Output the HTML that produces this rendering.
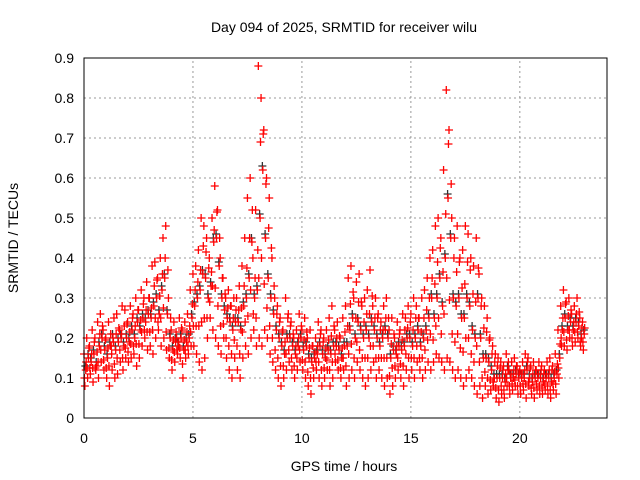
<!DOCTYPE html>
<html><head><meta charset="utf-8"><style>
body{margin:0;background:#fff;}
svg{display:block;font-family:"Liberation Sans",sans-serif;}
</style></head><body>
<svg id="chart" width="640" height="480">
<text x="344" y="32" font-size="14" text-anchor="middle">Day 094 of 2025, SRMTID for receiver wilu</text>
<text x="344" y="471" font-size="14" text-anchor="middle">GPS time / hours</text>
<text x="18" y="238" font-size="14" text-anchor="middle" transform="rotate(-90 18 238)">SRMTID / TECUs</text>
<g id="grid"></g><g id="ticks"></g><g id="marks"></g>
<rect x="84" y="58" width="523" height="360" fill="none" stroke="#000"/>
</svg>
<script>
const xTicks=[0,5,10,15,20];
const yTicks=[0,0.1,0.2,0.3,0.4,0.5,0.6,0.7,0.8,0.9];
const yTickLabels=["0","0.1","0.2","0.3","0.4","0.5","0.6","0.7","0.8","0.9"];
const binHours=0.125;
const upperValues=[.16,.2,.18,.22,.2,.24,.26,.22,.2,.24,.18,.25,.26,.22,.28,.27,.24,.28,.26,.3,.27,.32,.3,.34,.3,.38,.39,.35,.4,.45,.48,.3,.22,.24,.2,.25,.22,.24,.26,.32,.36,.38,.42,.5,.48,.45,.4,.5,.58,.52,.4,.35,.3,.32,.28,.3,.3,.33,.38,.45,.55,.6,.4,.52,.88,.8,.72,.6,.55,.4,.3,.28,.25,.22,.3,.26,.24,.2,.22,.26,.22,.25,.2,.22,.18,.2,.24,.22,.2,.22,.25,.28,.22,.24,.2,.25,.28,.35,.38,.3,.34,.36,.28,.3,.32,.37,.28,.3,.26,.24,.28,.3,.22,.25,.2,.24,.22,.26,.25,.28,.26,.3,.28,.25,.3,.32,.35,.4,.42,.48,.5,.45,.62,.82,.72,.5,.45,.48,.4,.42,.48,.46,.4,.38,.45,.36,.3,.28,.25,.2,.18,.16,.15,.14,.13,.16,.12,.14,.15,.13,.12,.14,.16,.15,.13,.14,.12,.14,.13,.12,.14,.15,.13,.16,.22,.28,.32,.29,.3,.26,.28,.3,.25,.24];
const lowerValues=[.08,.1,.11,.09,.12,.1,.14,.12,.1,.08,.12,.1,.11,.14,.12,.15,.14,.15,.16,.13,.15,.18,.2,.17,.18,.16,.2,.22,.18,.2,.17,.15,.12,.14,.16,.15,.1,.15,.16,.18,.18,.16,.14,.12,.15,.2,.25,.22,.2,.18,.16,.2,.15,.12,.1,.15,.12,.1,.15,.18,.16,.2,.22,.18,.2,.18,.22,.2,.16,.14,.12,.1,.08,.1,.12,.14,.12,.1,.12,.14,.12,.1,.08,.06,.1,.12,.1,.08,.1,.12,.08,.1,.14,.12,.1,.12,.08,.1,.12,.1,.14,.12,.1,.08,.1,.12,.14,.1,.12,.1,.08,.1,.06,.08,.1,.12,.1,.08,.12,.1,.12,.1,.14,.12,.1,.12,.14,.12,.14,.16,.15,.14,.12,.15,.14,.12,.1,.12,.1,.08,.1,.12,.1,.08,.06,.08,.05,.08,.06,.07,.08,.05,.04,.06,.05,.08,.06,.07,.08,.06,.06,.07,.05,.08,.06,.05,.07,.06,.06,.07,.06,.05,.07,.06,.1,.18,.18,.17,.2,.18,.19,.2,.18,.17];
const midValues=[.12,.15,.14,.16,.13,.18,.2,.17,.15,.18,.2,.17,.19,.2,.18,.2,.19,.22,.2,.24,.22,.25,.24,.26,.25,.28,.3,.26,.32,.35,.26,.2,.17,.19,.18,.2,.17,.19,.2,.25,.28,.3,.32,.36,.35,.3,.33,.44,.45,.38,.3,.27,.25,.24,.22,.24,.24,.22,.28,.3,.35,.44,.3,.32,.5,.62,.45,.35,.3,.26,.22,.2,.18,.16,.2,.2,.18,.16,.18,.2,.17,.18,.15,.14,.15,.16,.18,.16,.15,.17,.16,.18,.18,.17,.15,.18,.18,.22,.25,.2,.24,.22,.2,.22,.2,.24,.22,.2,.18,.2,.22,.2,.15,.17,.16,.18,.17,.18,.2,.2,.18,.2,.22,.18,.2,.22,.25,.3,.25,.3,.35,.28,.4,.55,.45,.3,.28,.3,.25,.25,.3,.28,.22,.2,.3,.2,.15,.15,.14,.12,.1,.1,.1,.1,.09,.12,.1,.1,.11,.1,.1,.1,.12,.1,.09,.1,.1,.1,.09,.1,.1,.09,.1,.11,.15,.22,.25,.22,.24,.22,.24,.23,.2,.21];
const X0=84,X1=607,Y0=418,Y1=58;
const xs=h=>X0+(h/24)*(X1-X0);
const ys=v=>Y0-(v/0.9)*(Y0-Y1);
const NS="http://www.w3.org/2000/svg";
const grid=document.getElementById('grid'),ticks=document.getElementById('ticks'),marks=document.getElementById('marks');
function mk(t,a,p){const e=document.createElementNS(NS,t);for(const k in a)e.setAttribute(k,a[k]);p.appendChild(e);return e;}
yTicks.forEach((v,i)=>{
 const y=ys(v);
 if(i>0&&i<yTicks.length-1){const g=mk('line',{x1:X0,x2:X1,y1:y,y2:y,stroke:'#999','stroke-dasharray':'2,3'},grid);
 
 }
 const t=mk('text',{x:X0-10,y:y+5,'font-size':14,'text-anchor':'end'},ticks);t.textContent=yTickLabels[i];
 
 
});
xTicks.forEach(h=>{
 const x=xs(h);
 if(h>0){const g=mk('line',{x1:x,x2:x,y1:Y0,y2:Y1,stroke:'#999','stroke-dasharray':'2,3'},grid);
 
 }
 const t=mk('text',{x:x,y:Y0+25,'font-size':14,'text-anchor':'middle'},ticks);t.textContent=h;
 
 
});
function plus(h,v,c,name){const x=xs(h),y=ys(v);
 const p=mk('path',{d:`M${x-4},${y}h8M${x},${y-4}v8`,stroke:c,'stroke-width':1.3,fill:'none'},marks);
 
 }
midValues.forEach((v,i)=>plus(i*binHours+0.06,v+0.01,'#333','point-black'));
upperValues.forEach((v,i)=>plus(i*binHours,v,'#f00','point-upper'));
lowerValues.forEach((v,i)=>plus(i*binHours+0.04,v,'#f00','point-lower'));
midValues.forEach((v,i)=>plus(i*binHours+0.08,v,'#f00','point-mid'));
upperValues.forEach((v,i)=>plus(i*binHours+0.1,(v+midValues[i])/2,'#f00','point-extra'));
lowerValues.forEach((v,i)=>plus(i*binHours+0.02,(v+midValues[i])/2,'#f00','point-extra'));
</script>
</body></html>
